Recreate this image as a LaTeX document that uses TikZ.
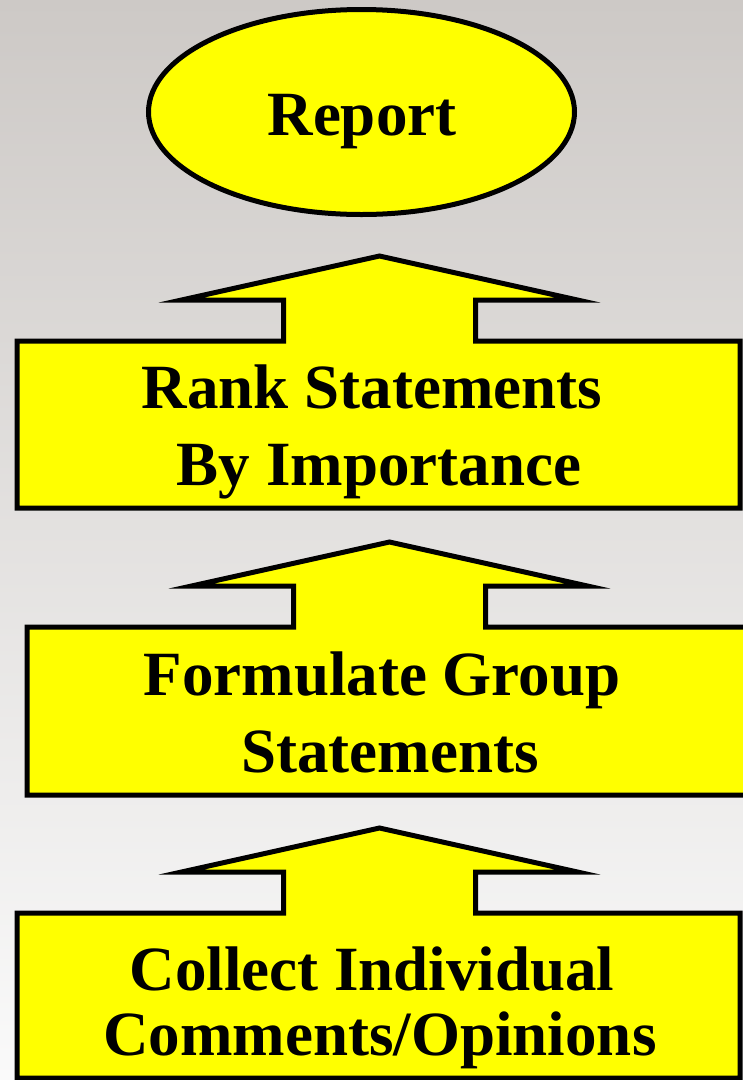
\documentclass[tikz,border=0pt]{standalone}
\usepackage{fontspec}
\setmainfont{Liberation Serif}
\usepackage{tikz}
\usetikzlibrary{shapes.geometric}
\definecolor{bgtop}{RGB}{205,201,198}
\definecolor{bgbottom}{RGB}{250,250,250}
\definecolor{boxyellow}{RGB}{255,255,0}
\tikzstyle{yellowbox}=[draw=black,fill=boxyellow,line width=5pt,
                       line join=miter,miter limit=25]
\tikzstyle{yellowoval}=[ellipse,draw=black,fill=boxyellow,line width=5pt,
                        inner sep=0pt,minimum width=426pt,minimum height=205pt]
\tikzstyle{boxtext}=[anchor=base,inner sep=0pt,
                     font=\bfseries\fontsize{63}{63}\selectfont]

\begin{document}
\begin{tikzpicture}[x=1pt,y=-1pt]
    \newcommand{\upbox}[3]{%
      \draw[yellowbox] (#1-361.5,#3) -- (#1-361.5,#2) -- (#1-95,#2)
        -- (#1-95,#2-41) -- (#1-197,#2-41) -- (#1+1,#2-85)
        -- (#1+199,#2-41) -- (#1+97,#2-41) -- (#1+97,#2)
        -- (#1+361.5,#2) -- (#1+361.5,#3) -- cycle;}
    \useasboundingbox (0,0) rectangle (743,1080);
    \clip (0,0) rectangle (743,1080);
    \shade[top color=bgtop,bottom color=bgbottom] (0,0) rectangle (743,1080);
    \node (report) at (361.5,112) [yellowoval]{};
    \node (reportlabel) at (362,135) [boxtext]{Report};
    \upbox{378.5}{341}{508}
    \upbox{388.5}{627}{795}
    \upbox{378.5}{913}{1078}
    \node (rank1) at (372,408) [boxtext]{Rank Statements};
    \node (rank2) at (379,485) [boxtext]{By Importance};
    \node (form1) at (382,695) [boxtext]{Formulate Group};
    \node (form2) at (390,772) [boxtext]{Statements};
    \node (coll1) at (372,990) [boxtext]{Collect Individual};
    \node (coll2) at (380,1055) [boxtext]{Comments/Opinions};
  \end{tikzpicture}
\end{document}
